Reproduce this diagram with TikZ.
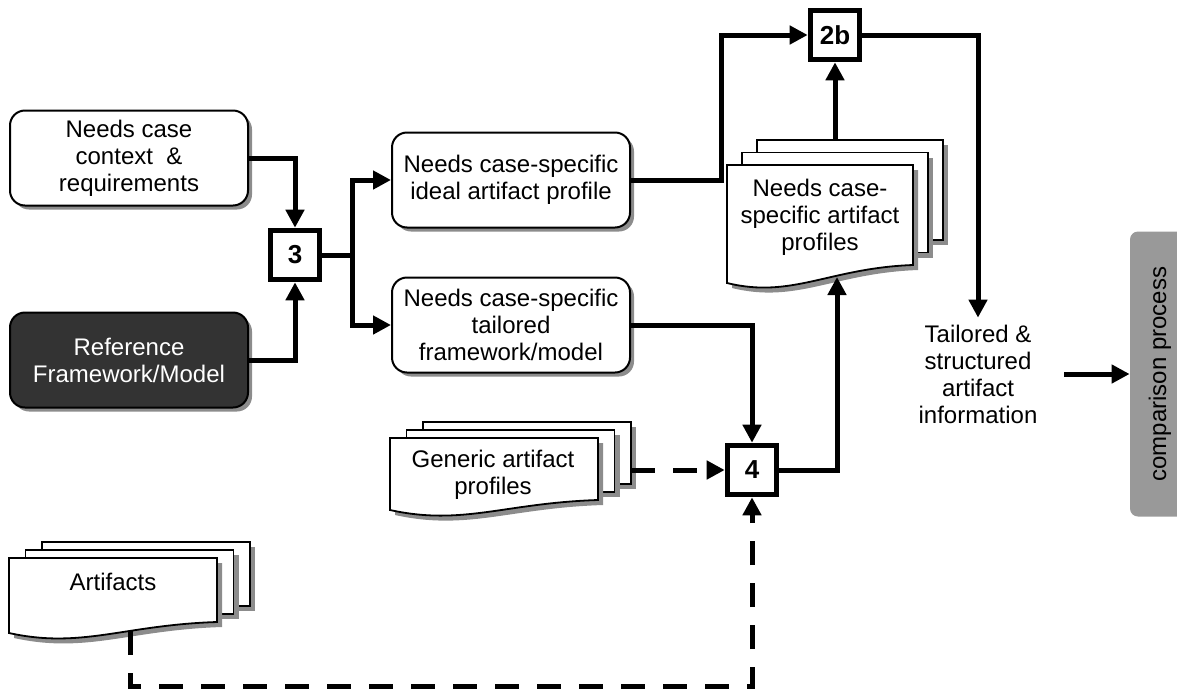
\documentclass[tikz,border=0pt]{standalone}
\usepackage{fontspec}
\setmainfont{Liberation Sans}
\usetikzlibrary{arrows.meta,calc,shadows}

% stack of three pages: x, top, width, right height, left height, x step, y step
\newcommand{\docpages}[7]{%
  \foreach \k in {2,1}{
    \fill[black!45] ({#1+\k*#6+5},{#2-\k*#7+5}) rectangle ++(#3,#4);
    \draw[fill=white, line width=0.9pt] ({#1+\k*#6},{#2-\k*#7}) rectangle ++(#3,#4);
  }
  \fill[black!45, xshift=2.5pt, yshift=-2.5pt] (#1,#2) -- ++(#3,0) -- ++(0,#4)
    .. controls ({#1+0.55*#3},{#2+#4+3}) and ({#1+0.35*#3},{#2+#5+16}) .. (#1,{#2+#5}) -- cycle;
  \draw[fill=white, line width=0.9pt] (#1,#2) -- ++(#3,0) -- ++(0,#4)
    .. controls ({#1+0.55*#3},{#2+#4+3}) and ({#1+0.35*#3},{#2+#5+16}) .. (#1,{#2+#5}) -- cycle;
}

\begin{document}
\begin{tikzpicture}[x=0.5pt,y=-0.5pt,>={Triangle[length=9pt,width=9pt]},
  font=\fontsize{12}{13.5}\selectfont,
  box/.style={draw, line width=1pt, rounded corners=7.5pt, fill=white, align=center,
    minimum width=119pt, minimum height=47.5pt, inner sep=2pt,
    drop shadow={shadow xshift=2pt, shadow yshift=-2pt, fill=black!45, opacity=1}},
  stepno/.style={draw, line width=2.8pt, fill=white, minimum size=24.5pt, inner sep=0pt, font=\fontsize{13}{14}\selectfont\bfseries},
  flow/.style={line width=2.5pt},
  dashflow/.style={flow, dash pattern=on 12pt off 9pt}]
  \useasboundingbox (0,0) rectangle (1177,691);

  \node[box] (ctx) at (129,158) {Needs case\\context \ \&\\requirements};
  \node[box, fill=black!80, text=white] (ref) at (129,360) {Reference\\Framework/Model};
  \node[stepno] (s3) at (295,255) {3};
  \node[box] (ideal) at (511,180) {Needs case-specific\\ideal artifact profile};
  \node[box] (tail) at (511,325) {Needs case-specific\\tailored\\framework/model};
  \node[stepno] (s2b) at (835,35) {2b};
  \node[stepno] (s4) at (752,470) {4};
  \node[align=center] (info) at (978,374) {Tailored \&\\structured\\artifact\\information};
  \node[fill=black!40, rounded corners=4pt, rotate=90, minimum width=142.5pt, minimum height=30pt] (comp) at (1160,374) {comparison process};

  \docpages{727}{165}{186}{100}{118}{15}{12.5}
  \node[align=center] (csdoc) at (820,217) {Needs case-\\specific artifact\\profiles};
  \docpages{390}{438}{208}{62}{72}{16.5}{8}
  \node[align=center] (gendoc) at (493,475) {Generic artifact\\profiles};
  \docpages{9}{558}{208}{64}{75}{16.5}{8}
  \node (artdoc) at (113,582) {Artifacts};

  \coordinate (csback) at (835,140);
  \coordinate (csin) at (837,277);
  \coordinate (genright) at (631,470);
  \coordinate (artbottom) at (130,631);

  \draw[flow,->] (ctx.east) -| (s3.north);
  \draw[flow,->] (ref.east) -| (s3.south);
  \draw[flow, line cap=rect] (s3.east) -- ++(30,0) coordinate (split);
  \draw[flow,->] (split) |- (ideal.west);
  \draw[flow,->] (split) |- (tail.west);
  \draw[flow,->] (ideal.east) -- ++(90,0) |- (s2b.west);
  \draw[flow,->] (csback) -- (s2b.south);
  \draw[flow,->] (s2b.east) -| (info.north);
  \draw[flow,->] (tail.east) -| (s4.north);
  \draw[flow,->] (s4.east) -| (csin);
  \draw[dashflow,->] (genright) -- (s4.west);
  \draw[dashflow,->] (artbottom) -- ++(0,55) -| (s4.south);
  \draw[flow,->, shorten <=10pt] (info.east) -- (comp.north);
\end{tikzpicture}
\end{document}
